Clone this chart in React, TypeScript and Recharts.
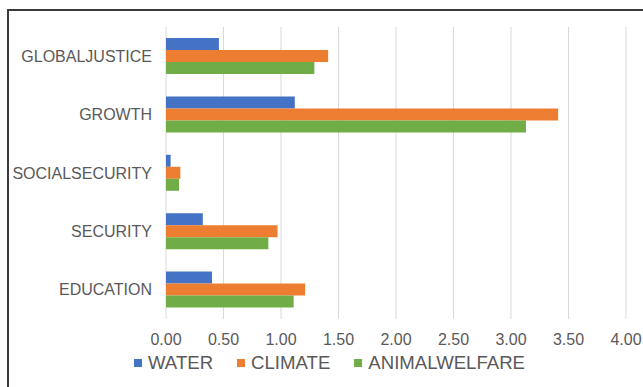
import { BarChart, Bar, XAxis, YAxis, CartesianGrid, Legend } from "recharts";

const categories = ["GLOBALJUSTICE", "GROWTH", "SOCIALSECURITY", "SECURITY", "EDUCATION"];
const water = [0.46, 1.12, 0.04, 0.32, 0.4];
const climate = [1.41, 3.41, 0.125, 0.97, 1.21];
const animalWelfare = [1.29, 3.13, 0.113, 0.89, 1.11];
const xTicks = [0, 0.5, 1, 1.5, 2, 2.5, 3, 3.5, 4];

const series = [
  { key: "water", label: "WATER", color: "#4472C4" },
  { key: "climate", label: "CLIMATE", color: "#ED7D31" },
  { key: "animal", label: "ANIMALWELFARE", color: "#70AD47" },
];

const data = categories.map((name, i) => ({
  name,
  water: water[i],
  climate: climate[i],
  animal: animalWelfare[i],
}));

const FONT = '"Liberation Sans", Arial, sans-serif';
const TEXT = "#595959";

function LegendBox() {
  return (
    <div
      style={{
        display: "inline-flex",
        alignItems: "center",
        height: 22,
        fontSize: 18.6,
        color: TEXT,
        fontFamily: FONT,
        whiteSpace: "nowrap",
      }}
    >
      {series.map((s, i) => (
        <span
          key={s.key}
          style={{
            display: "flex",
            alignItems: "center",
            marginRight: i < series.length - 1 ? 24 : 0,
          }}
        >
          <span
            style={{ width: 8, height: 8, background: s.color, marginRight: 6, display: "inline-block" }}
          />
          {s.label}
        </span>
      ))}
    </div>
  );
}

export default function App() {
  return (
    <div
      style={{
        position: "absolute",
        left: 0,
        top: 0,
        width: 643,
        height: 387,
        overflow: "hidden",
        background: "#fff",
        fontFamily: FONT,
      }}
    >
      <div
        style={{
          position: "absolute",
          left: 7,
          top: 9,
          width: 700,
          height: 400,
          borderLeft: "2px solid #3a3a3a",
          borderTop: "2px solid #3a3a3a",
        }}
      />
      <div style={{ position: "absolute", left: 0, top: 0 }}>
        <BarChart
          width={665}
          height={387}
          data={data}
          layout="vertical"
          margin={{ top: 27, right: 39, bottom: 13, left: 0 }}
          barGap={0}
        >
          <CartesianGrid horizontal={false} stroke="#d9d9d9" />
          <XAxis
            type="number"
            domain={[0, 4]}
            ticks={xTicks}
            tickFormatter={(v: number) => v.toFixed(2)}
            axisLine={false}
            tickLine={false}
            tickMargin={9}
            height={33}
            interval={0}
            tick={{ fontSize: 16, fill: TEXT }}
          />
          <YAxis
            type="category"
            dataKey="name"
            width={166}
            axisLine={false}
            tickLine={false}
            tickMargin={8}
            interval={0}
            tick={{ fontSize: 16, fill: TEXT }}
          />
          <Legend
            verticalAlign="bottom"
            align="center"
            wrapperStyle={{ left: 134, width: "auto" }}
            content={() => <LegendBox />}
          />
          {series.map((s) => (
            <Bar
              key={s.key}
              dataKey={s.key}
              name={s.label}
              fill={s.color}
              barSize={12}
              isAnimationActive={false}
            />
          ))}
        </BarChart>
      </div>
    </div>
  );
}
